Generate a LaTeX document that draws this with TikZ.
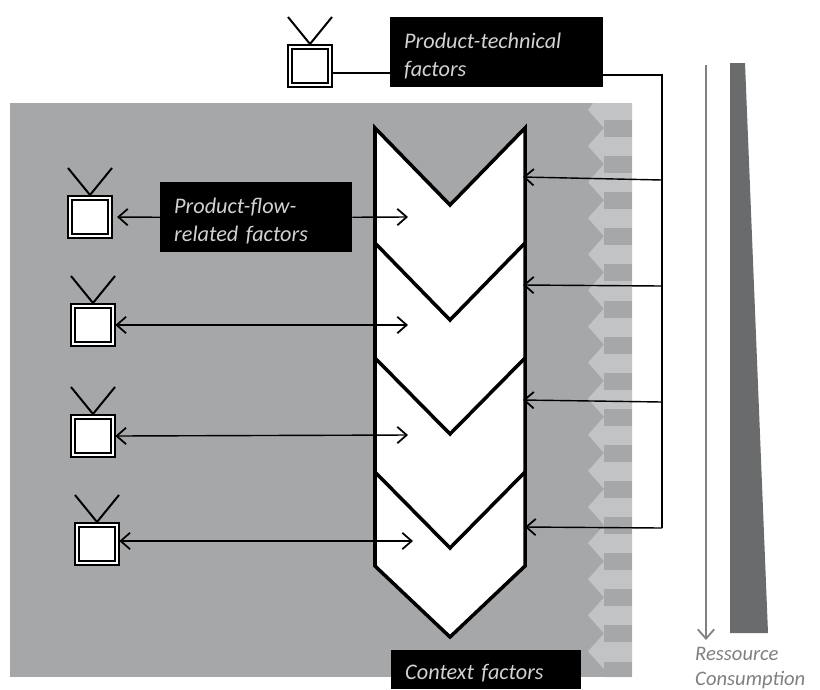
\documentclass[tikz,border=0pt]{standalone}
\usepackage{fontspec}
\setmainfont{Carlito}
\usetikzlibrary{arrows.meta}
\definecolor{bggray}{HTML}{A6A7A9}
\definecolor{bandgray}{HTML}{C2C3C4}
\definecolor{wedgegray}{HTML}{6A6B6D}
\definecolor{labelgray}{HTML}{7F8082}
\tikzset{
  tvset/.style={draw,double,line width=1.7pt,double distance=1.2pt,fill=white,minimum width=1.2cm,minimum height=1.14cm,inner sep=0pt,outer sep=2pt},
  factorbox/.style={fill=black,text=gray!35,font=\fontsize{19}{24}\selectfont\itshape,align=left,anchor=north west,inner xsep=0.42cm,inner ysep=0pt,execute at begin node=\rule{0pt}{19pt}},
  legend/.style={text=labelgray,font=\fontsize{17.6}{22}\selectfont\itshape,anchor=west,inner sep=0pt},
  link/.style={line width=1.2pt}
}
\begin{document}
\begin{tikzpicture}[x=0.03cm,y=-0.03cm,every path/.style={>={Straight Barb[length=8pt,width=14pt,line width=1.5pt]}}]
\clip (0,0) rectangle (820,689);
\fill[white] (0,0) rectangle (820,689);
% background and context band
\fill[bggray] (10,103) rectangle (632,677);
\fill[bandgray] (632,103) -- (593,103) -- (588,110)
  \foreach \k in {0,...,14} { -- ({604},{128+36.1*\k}) -- ({588},{146+36.1*\k}) } -- (604,669) |- (632,677) -- cycle;
\foreach \k in {0,...,14}
  \fill[bggray] ({604},{120+36.1*\k}) rectangle (632,{137+36.1*\k});
\fill[bggray] (604,661.5) rectangle (632,677);
% chevrons
\draw[line width=3pt,fill=white,miter limit=4] (375,128) -- (450,205) -- (525,128) -- (525,566) -- (450,637) -- (375,566) -- cycle;
\draw[line width=3pt] (375,243) -- (450,320) -- (525,243);
\draw[line width=3pt] (375,358) -- (450,434) -- (525,358);
\draw[line width=3pt] (375,472) -- (450,548) -- (525,472);
% tv sets
\foreach \name/\x/\y in {tvone/310/66,tvtwo/90/217,tvthree/93/325,tvfour/93/436,tvfive/97/544} {
  \node[tvset] (\name) at (\x,\y) {};
  \draw[line width=1.7pt] (\x-22,\y-49) -- (\x,\y-22) -- (\x+22,\y-49);
}
% factor boxes
\node[factorbox,text width=5.55cm,minimum height=2.1cm] (tech) at (390,17) {Product-technical\\factors};
\node[factorbox,text width=4.92cm,minimum height=2.1cm] (flow) at (160,182) {Product-flow-\\related factors};
\node[factorbox,text width=4.86cm,minimum height=1.17cm] (context) at (391,650) {Context factors};
% targets
\coordinate (stepa) at (408,217);
\coordinate (stepb) at (408,325);
\coordinate (stepc) at (408,435);
\coordinate (stepd) at (413,541);
\coordinate (techin) at (390,73);
\coordinate (bustop) at (662,75);
\coordinate (busa) at (662,180);
\coordinate (busb) at (662,286);
\coordinate (busc) at (662,402);
\coordinate (busd) at (662,528);
\coordinate (ina) at (523,177);
\coordinate (inb) at (523,285);
\coordinate (inc) at (523,400);
\coordinate (ind) at (525,527);
% connectors
\draw[link] (tvone.east |- techin) -- (techin);
\draw[link] (tech.east |- bustop) -- (bustop) -- (busd);
\draw[->,link] (busa) -- (ina);
\draw[->,link] (busb) -- (inb);
\draw[->,link] (busc) -- (inc);
\draw[->,link] (busd) -- (ind);
\draw[->,link] (flow.east) -- (stepa);
\draw[->,link,shorten >=4pt] (flow.west) -- (tvtwo.east);
\draw[<->,link] (tvthree.east) -- (stepb);
\draw[<->,link] (tvfour.east) -- (stepc);
\draw[<->,link] (tvfive.east |- stepd) -- (stepd);
% resource consumption
\coordinate (usetop) at (706,65);
\coordinate (usebot) at (706,640);
\draw[->,draw=labelgray,line width=1.5pt] (usetop) -- (usebot);
\fill[wedgegray] (730,63) -- (745,63) -- (768,633) -- (730,633) -- cycle;
\node[legend] (resa) at (695,654) {Ressource};
\node[legend] (resb) at (695,680) {Consumption};
\end{tikzpicture}
\end{document}
